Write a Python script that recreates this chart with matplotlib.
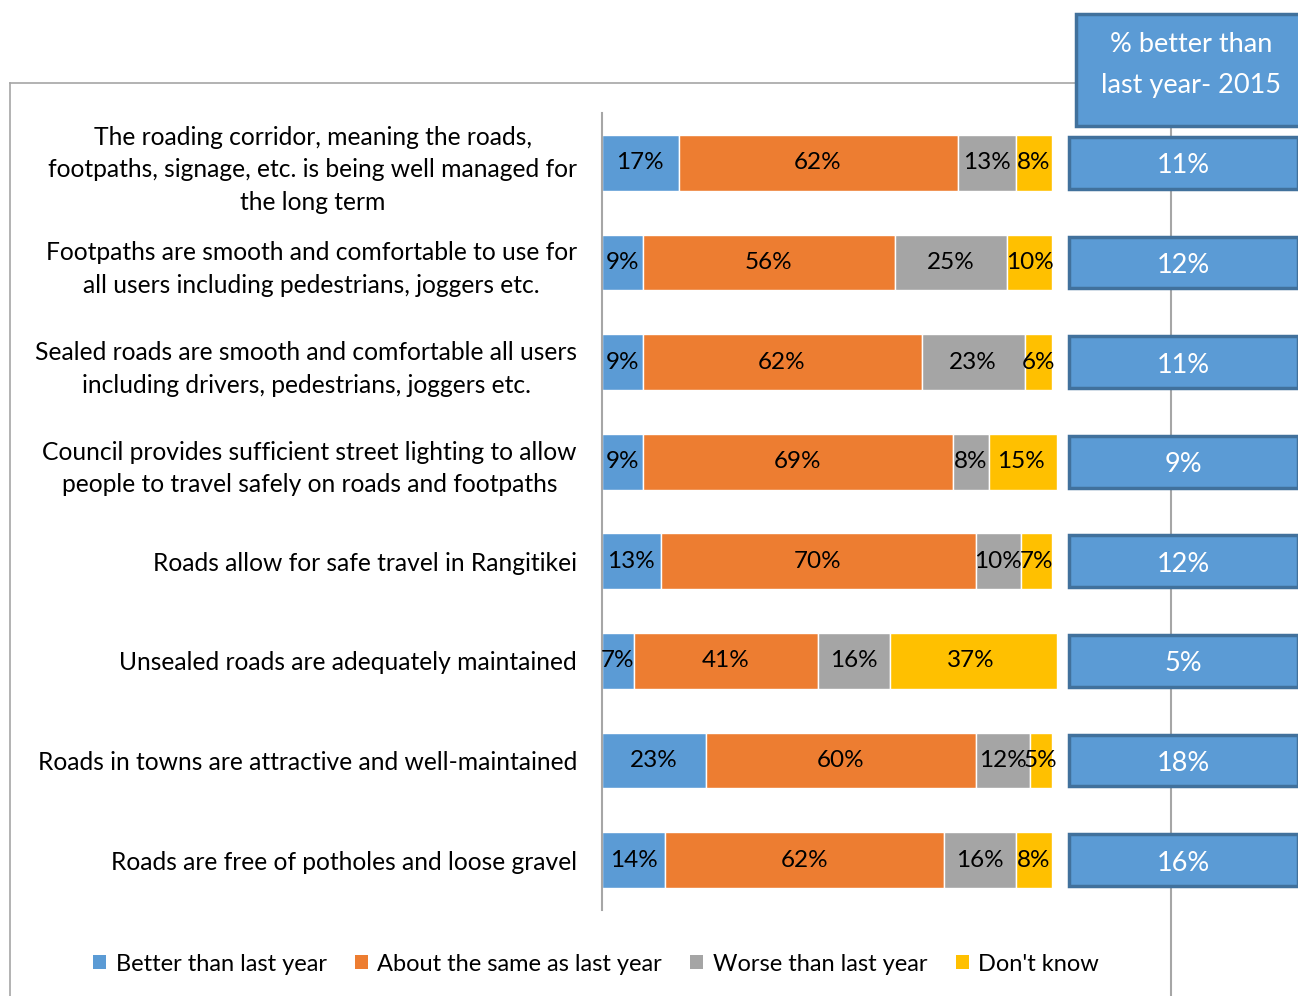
import matplotlib.pyplot as plt
from matplotlib.patches import Patch, Rectangle
from matplotlib.lines import Line2D
import numpy as np

plt.rcParams['font.family'] = ['Lato', 'DejaVu Sans']

statements = [
    "The roading corridor, meaning the roads,\nfootpaths, signage, etc. is being well managed for\nthe long term",
    "Footpaths are smooth and comfortable to use for\nall users including pedestrians, joggers etc.",
    "Sealed roads are smooth and comfortable all users\nincluding drivers, pedestrians, joggers etc.",
    "Council provides sufficient street lighting to allow\npeople to travel safely on roads and footpaths",
    "Roads allow for safe travel in Rangitikei",
    "Unsealed roads are adequately maintained",
    "Roads in towns are attractive and well-maintained",
    "Roads are free of potholes and loose gravel",
]
better = [17, 9, 9, 9, 13, 7, 23, 14]
same = [62, 56, 62, 69, 70, 41, 60, 62]
worse = [13, 25, 23, 8, 10, 16, 12, 16]
dont_know = [8, 10, 6, 15, 7, 37, 5, 8]
better_2015 = [11, 12, 11, 9, 12, 5, 18, 16]
series_names = ["Better than last year", "About the same as last year",
                "Worse than last year", "Don't know"]
colours = ["#5B9BD5", "#ED7D31", "#A5A5A5", "#FFC000"]
box_title = "% better than\nlast year- 2015"

W, H = 1298, 996
fig = plt.figure(figsize=(W / 100, H / 100), dpi=100)


def px(x0, y0, x1, y1):
    # pixel box (top-left origin) -> figure fraction rect
    return [x0 / W, 1 - y1 / H, (x1 - x0) / W, (y1 - y0) / H]


def fx(x):
    return x / W


def fy(y):
    return 1 - y / H


grey = "#A6A6A6"
# outer frame and connector lines
fig.add_artist(Line2D([fx(10), fx(1075)], [fy(83), fy(83)], color=grey, lw=1.2, zorder=-1))
fig.add_artist(Line2D([fx(10), fx(10)], [fy(83), fy(996)], color=grey, lw=1.2, zorder=-1))
fig.add_artist(Line2D([fx(1171), fx(1171)], [fy(127), fy(996)], color=grey, lw=1.5, zorder=-1))

# stacked bars
ax = fig.add_axes(px(602, 113, 1052, 910))
y = np.arange(len(statements))
left = np.zeros(len(statements))
for name, vals, col in zip(series_names, [better, same, worse, dont_know], colours):
    vals = np.array(vals)
    bars = ax.barh(y, vals, left=left, height=0.56, color=col, edgecolor='white',
                   linewidth=1, label=name, clip_on=False)
    ax.bar_label(bars, labels=[f"{v}%" for v in vals], label_type='center',
                 fontsize=17.5, color='black')
    left += vals
ax.set_xlim(0, 100)
ax.set_ylim(len(statements) - 0.5, -0.5)
ax.set_yticks(y)
ax.set_yticklabels(statements, fontsize=17.7, multialignment='center', linespacing=1.5)
ax.tick_params(axis='y', length=0, pad=18)
ax.set_xticks([])
for s in ['top', 'right', 'bottom']:
    ax.spines[s].set_visible(False)
ax.spines['left'].set_color(grey)
ax.spines['left'].set_linewidth(1.5)

# % better than last year boxes
ax2 = fig.add_axes(px(1069, 113, 1298, 910))
ax2.set_xlim(1069, 1298)
ax2.set_ylim(len(statements) - 0.5, -0.5)
ax2.axis('off')
ax2.barh(y, 229, left=1069, height=0.52, color="#5B9BD5", edgecolor="#41719C",
         linewidth=2.5, clip_on=False)
for yi, v in zip(y, better_2015):
    ax2.text(1183, yi + 0.03, f"{v}%", ha='center', va='center', color='white', fontsize=19.5)

fig.add_artist(Rectangle((fx(1076), fy(126)), (1300 - 1076) / W, (126 - 14) / H,
                         transform=fig.transFigure, facecolor="#5B9BD5",
                         edgecolor="#41719C", linewidth=2.5))
fig.text(fx(1191), fy(65), box_title, ha='center', va='center', color='white',
         fontsize=19.5, linespacing=1.75)

handles = [Patch(facecolor=c, label=n) for c, n in zip(colours, series_names)]
fig.legend(handles=handles, loc='center', bbox_to_anchor=(fx(596), fy(964)), ncol=4,
           frameon=False, fontsize=17, handlelength=0.55, handleheight=0.55,
           handletextpad=0.4, columnspacing=1.2)

fig.savefig("out.png", dpi=100)
